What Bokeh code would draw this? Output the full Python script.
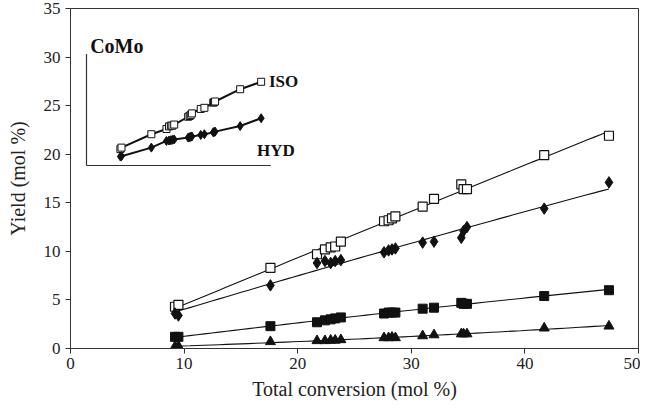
import numpy as np
from bokeh.plotting import figure
from bokeh.models import Range1d, FixedTicker
from bokeh.core.properties import value
from bokeh.embed import file_html
from bokeh.resources import INLINE

# ---- data ----
conversion = [9.2, 9.5, 17.6, 21.7, 22.4, 22.9, 23.3, 23.8, 27.6, 28.0, 28.3, 28.6,
              31.0, 32.0, 34.4, 34.6, 34.9, 41.7, 47.4]
iso_yield = [4.3, 4.5, 8.3, 9.7, 10.2, 10.4, 10.5, 11.0, 13.1, 13.2, 13.4, 13.6,
             14.6, 15.4, 16.9, 16.4, 16.4, 19.9, 21.9]
hyd_yield = [3.6, 3.4, 6.5, 8.8, 9.0, 8.8, 9.0, 9.1, 9.9, 10.1, 10.2, 10.3,
             10.9, 11.0, 11.4, 12.1, 12.5, 14.4, 17.1]
sq_yield = [1.2, 1.2, 2.3, 2.7, 2.9, 3.0, 3.1, 3.2, 3.6, 3.7, 3.7, 3.7,
            4.1, 4.2, 4.7, 4.6, 4.6, 5.4, 6.0]
tri_yield = [0.2, 0.25, 0.7, 0.8, 0.8, 0.85, 0.85, 0.9, 1.1, 1.1, 1.15, 1.1,
             1.3, 1.4, 1.5, 1.5, 1.5, 2.1, 2.3]

# inset (CoMo) series
inset_iso = [4.4, 4.8, 8.4, 9.8, 10.5, 10.7, 10.7, 11.0, 13.1, 13.3, 13.6, 14.0,
             15.2, 15.5, 16.9, 17.0, 17.2, 20.5, 22.5]
inset_hyd = [2.4, 2.5, 4.8, 6.6, 6.7, 6.8, 6.9, 7.0, 7.5, 7.6, 7.7, 7.8,
             8.2, 8.4, 8.9, 9.0, 9.1, 10.6, 12.7]

x_ticks = [0, 10, 20, 30, 40, 50]
y_ticks = [0, 5, 10, 15, 20, 25, 30, 35]

FONT = "Liberation Serif"

p = figure(width=640, height=402, x_range=Range1d(0, 50), y_range=Range1d(0, 35),
           output_backend="svg", toolbar_location=None,
           min_border_left=70, min_border_right=2, min_border_top=8, min_border_bottom=52)
p.background_fill_color = "white"
p.border_fill_color = "white"
p.outline_line_color = "#333333"
p.outline_line_width = 1
p.xgrid.visible = False
p.ygrid.visible = False

for ax in (p.xaxis[0], p.yaxis[0]):
    ax.axis_line_color = "#333333"
    ax.major_tick_line_color = "#333333"
    ax.major_tick_in = 0
    ax.major_tick_out = 5
    ax.minor_tick_line_color = None
    ax.major_label_text_font = FONT
    ax.major_label_text_font_size = "17px"
    ax.major_label_text_color = "#222222"
    ax.axis_label_text_font = FONT
    ax.axis_label_text_font_size = "20px"
    ax.axis_label_text_font_style = "normal"
    ax.axis_label_text_color = "#222222"
p.xaxis.ticker = FixedTicker(ticks=x_ticks)
p.yaxis.ticker = FixedTicker(ticks=y_ticks)
p.xaxis.axis_label = "Total conversion (mol %)"
p.yaxis.axis_label = "Yield (mol %)"
p.xaxis.major_label_standoff = 4
p.yaxis.major_label_standoff = 5
p.xaxis.axis_label_standoff = 6
p.yaxis.axis_label_standoff = 12

# trend lines (quadratic fits of each series)
xc = np.array(conversion)
xs = np.linspace(xc.min(), xc.max(), 60)
for ys in (iso_yield, hyd_yield, sq_yield, tri_yield):
    c = np.polyfit(xc, np.array(ys), 2)
    p.line(xs, np.polyval(c, xs), line_color="#111111", line_width=1.1)

p.scatter(conversion, iso_yield, marker="square", size=9, fill_color="white",
          line_color="#111111", line_width=1.2)
p.scatter(conversion, hyd_yield, marker="diamond", size=11.5, fill_color="#111111",
          line_color="#111111")
p.scatter(conversion, sq_yield, marker="square", size=9, fill_color="#111111",
          line_color="#111111")
p.scatter(conversion, tri_yield, marker="triangle", size=10, fill_color="#111111",
          line_color="#111111")

# ---- inset drawn in its own coordinate system ----
p.extra_x_ranges = {"ix": Range1d(-4.34, 149.8)}
p.extra_y_ranges = {"iy": Range1d(-49.2, 42.2)}
p.segment(x0=[0, 0], y0=[0, 0], x1=[0, 50], y1=[30, 0], line_color="#333333",
          line_width=1.2, x_range_name="ix", y_range_name="iy")
p.line(conversion, inset_iso, line_color="#111111", line_width=2,
       x_range_name="ix", y_range_name="iy")
p.line(conversion, inset_hyd, line_color="#111111", line_width=2,
       x_range_name="ix", y_range_name="iy")
p.scatter(conversion, inset_iso, marker="square", size=7, fill_color="white",
          line_color="#111111", line_width=1, x_range_name="ix", y_range_name="iy")
p.scatter(conversion, inset_hyd, marker="diamond", size=9, fill_color="#111111",
          line_color="#111111", x_range_name="ix", y_range_name="iy")

p.text(x=[1.0], y=[32.2], text=["CoMo"], text_font=value(FONT), text_font_size="20px",
       text_font_style="bold", text_color="#111111", text_baseline="alphabetic",
       x_range_name="ix", y_range_name="iy")
p.text(x=[49.5], y=[22.5], text=["ISO"], text_font=value(FONT), text_font_size="17px",
       text_font_style="bold", text_color="#111111", text_baseline="alphabetic",
       x_range_name="ix", y_range_name="iy")
p.text(x=[46.3], y=[4.0], text=["HYD"], text_font=value(FONT), text_font_size="17px",
       text_font_style="bold", text_color="#111111", text_baseline="alphabetic",
       x_range_name="ix", y_range_name="iy")

open("out.html", "w").write(file_html(p, INLINE))
